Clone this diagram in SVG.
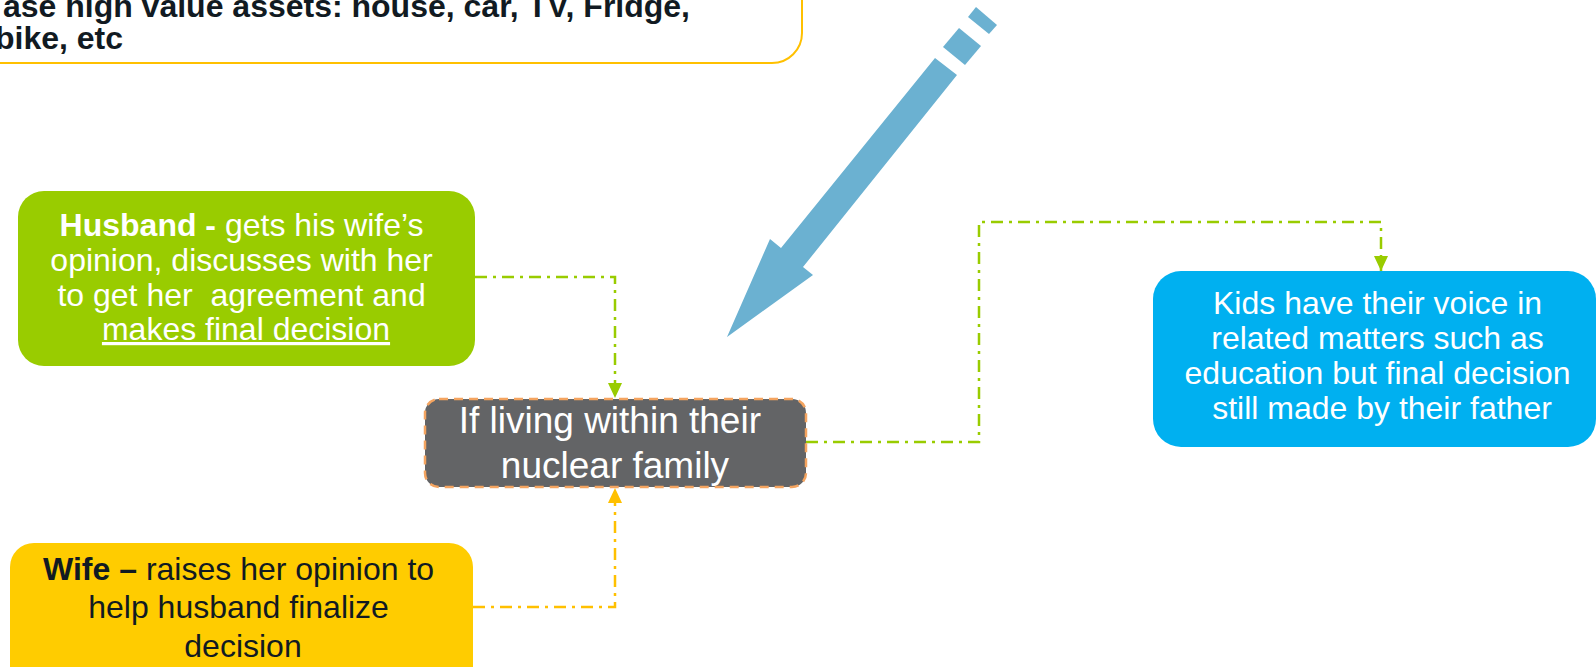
<svg xmlns="http://www.w3.org/2000/svg" width="1596" height="667" viewBox="0 0 1596 667">
  <defs>
    <style>
      .t { font-family: "Liberation Sans", Arial, sans-serif; }
      .w { fill: #ffffff; }
      .d { fill: #111a22; }
      .b { font-weight: bold; }
      .conn { fill: none; stroke-width: 2.5; stroke-dasharray: 12 6 3 6; }
      .g { stroke: #99CC00; }
      .y { stroke: #FFC000; }
    </style>
    <marker id="ag" markerUnits="userSpaceOnUse" markerWidth="15" markerHeight="14" refX="15" refY="7" orient="auto" viewBox="0 0 15 14">
      <path d="M0,0 L15,7 L0,14 Z" fill="#99CC00"/>
    </marker>
    <marker id="ay" markerUnits="userSpaceOnUse" markerWidth="15" markerHeight="14" refX="15" refY="7" orient="auto" viewBox="0 0 15 14">
      <path d="M0,0 L15,7 L0,14 Z" fill="#FFC000"/>
    </marker>
  </defs>
  <rect width="1596" height="667" fill="#ffffff"/>

  <g id="top-note">
    <rect x="-40" y="-40" width="842" height="103" rx="30" fill="#ffffff" stroke="#FFC000" stroke-width="2"/>
    <text class="t d b" font-size="32" x="690" y="17" text-anchor="end">ase high value assets: house, car, TV, Fridge,</text>
    <text class="t d b" font-size="32" x="-5" y="49">bike, etc</text>
  </g>

  <g id="big-arrow" fill="#6BB1D1">
    <polygon points="976,7 997,25 989,34 968,17"/>
    <polygon points="959,28 981,46 965,65 943,47"/>
    <polygon points="935,58 957,75 803,267 813,275 727,337 770,239 781,248"/>
  </g>

  <g id="connectors">
    <path class="conn g" d="M475,277 H615 V398" marker-end="url(#ag)"/>
    <path class="conn y" d="M473,607 H615 V488" marker-end="url(#ay)"/>
    <path class="conn g" d="M806,442 H979 V222 H1381 V271" marker-end="url(#ag)"/>
  </g>

  <g id="husband">
    <rect x="18" y="191" width="457" height="175" rx="26" fill="#99CC00"/>
    <text class="t w" font-size="32" text-anchor="middle">
      <tspan x="246" y="236"><tspan class="b">Husband -</tspan> gets his wife’s</tspan>
      <tspan x="246" y="271">opinion, discusses with her</tspan>
      <tspan x="246" y="305.5">to get her &#160;agreement and</tspan>
      <tspan x="246" y="340" text-decoration="underline">makes final decision</tspan>
    </text>
  </g>

  <g id="center">
    <rect x="425" y="399" width="381" height="88" rx="14" fill="#636466" stroke="#F4A460" stroke-width="2.5" stroke-dasharray="9 6"/>
    <text class="t w" font-size="37" text-anchor="middle">
      <tspan x="615" y="433">If living within their</tspan>
      <tspan x="615" y="478">nuclear family</tspan>
    </text>
  </g>

  <g id="wife">
    <rect x="10" y="543" width="463" height="150" rx="24" fill="#FFCC00"/>
    <text class="t d" font-size="32" text-anchor="middle">
      <tspan x="243" y="580"><tspan class="b">Wife –</tspan> raises her opinion to</tspan>
      <tspan x="243" y="618">help husband finalize</tspan>
      <tspan x="243" y="657">decision</tspan>
    </text>
  </g>

  <g id="kids">
    <rect x="1153" y="271" width="443" height="176" rx="28" fill="#00B0F0"/>
    <text class="t w" font-size="32" text-anchor="middle">
      <tspan x="1382" y="314">Kids have their voice in</tspan>
      <tspan x="1382" y="349">related matters such as</tspan>
      <tspan x="1382" y="384">education but final decision</tspan>
      <tspan x="1382" y="419">still made by their father</tspan>
    </text>
  </g>
</svg>
